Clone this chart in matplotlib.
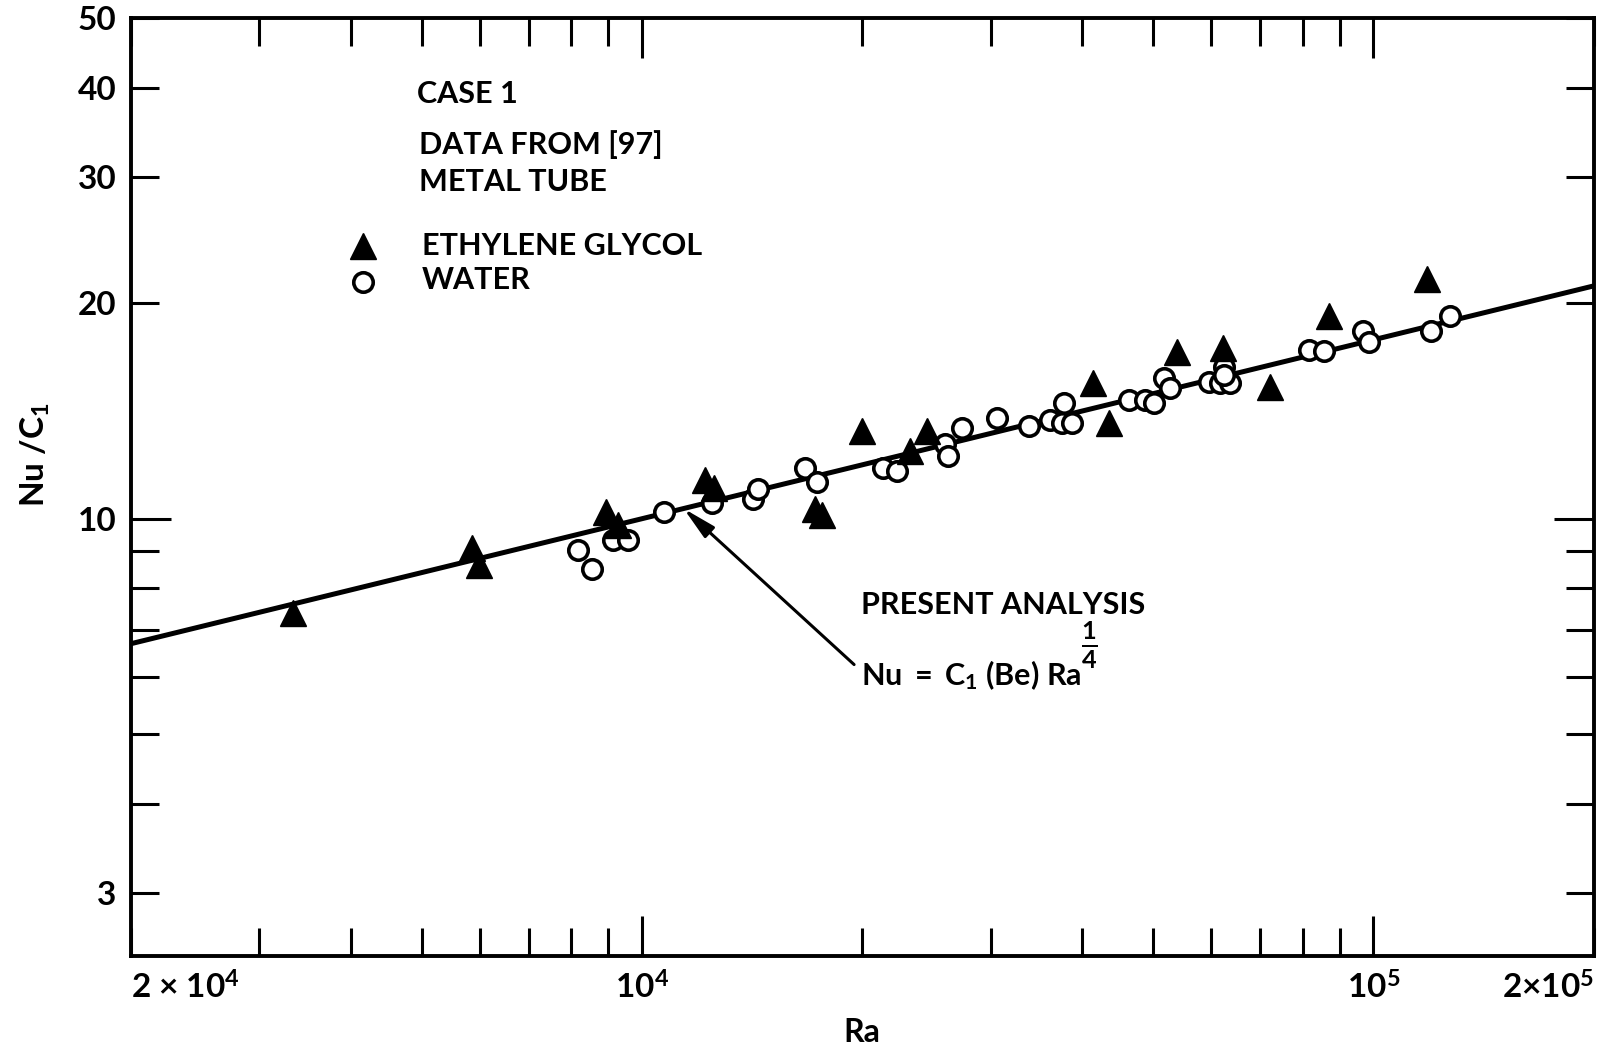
import numpy as np
import matplotlib
matplotlib.use("Agg")
import matplotlib.pyplot as plt

plt.rcParams['font.family'] = ['Lato', 'DejaVu Sans']
plt.rcParams['font.weight'] = 'bold'
plt.rcParams['axes.labelweight'] = 'bold'
plt.rcParams['mathtext.fontset'] = 'custom'
plt.rcParams['mathtext.rm'] = 'Lato:bold'
plt.rcParams['mathtext.it'] = 'Lato:bold'
plt.rcParams['mathtext.bf'] = 'Lato:bold'

# ethylene glycol runs (Ra, Nu/C1)
glycol_ra = [3330, 5850, 5990, 8920, 9280, 12200, 12550, 17240, 17610, 19980,
             23260, 24520, 41370, 43450, 53890, 62250, 72120, 86870, 118450]
glycol_nu = [7.39, 9.11, 8.62, 10.21, 9.79, 11.32, 11.04, 10.32, 10.11, 13.25,
             12.42, 13.25, 15.46, 13.61, 17.09, 17.32, 15.30, 19.21, 21.60]

# water runs (Ra, Nu/C1)
water_ra = [8180, 8540, 9140, 9580, 10730, 12460, 14200, 14420, 16710, 17340,
            21380, 22310, 25970, 26240, 27370, 30560, 33770, 36150, 37700, 37510,
            38710, 46270, 48770, 50060, 51660, 52770, 59530, 61760, 63740, 62400,
            62550, 81560, 85510, 96810, 98540, 119670, 127430]
water_nu = [9.04, 8.50, 9.33, 9.33, 10.23, 10.52, 10.66, 11.00, 11.79, 11.24,
            11.79, 11.66, 12.70, 12.24, 13.39, 13.82, 13.46, 13.75, 14.50, 13.61,
            13.61, 14.66, 14.66, 14.50, 15.70, 15.21, 15.53, 15.46, 15.46, 16.29,
            15.87, 17.19, 17.15, 18.32, 17.65, 18.32, 19.21]

# present analysis: Nu = C1 (Be) Ra^(1/4)
ra_line = np.array([2e3, 2e5])
nu_line = ra_line ** 0.25
arrow_ra = 11400

x_major = [1e4, 1e5]
x_major_labels = ['10$^4$', '10$^5$']
x_minor = [2e3, 3e3, 4e3, 5e3, 6e3, 7e3, 8e3, 9e3,
           2e4, 3e4, 4e4, 5e4, 6e4, 7e4, 8e4, 9e4, 2e5]
x_minor_labels = ['2 × 10$^4$'] + [''] * 15 + ['2×10$^5$']
y_major = [10]
y_minor = [3, 4, 5, 6, 7, 8, 9, 20, 30, 40, 50]
y_minor_labels = ['3', '', '', '', '', '', '', '20', '30', '40', '50']

fig = plt.figure(figsize=(16.03, 10.53), dpi=100)
ax = fig.add_axes([0.0815, 0.0922, 0.9127, 0.8903])
ax.set_xscale('log')
ax.set_yscale('log')
ax.set_xlim(2e3, 2e5)
ax.set_ylim(2.45, 50)

ax.plot(ra_line, nu_line, color='black', lw=3.6, zorder=2)
ax.plot(water_ra, water_nu, 'o', ms=14, mfc='white', mec='black', mew=2.6, zorder=3)
ax.plot(glycol_ra, glycol_nu, '^', ms=19, mfc='black', mec='black', zorder=4)

# axes frame and ticks
for s in ax.spines.values():
    s.set_linewidth(2.8)
ax.set_xticks(x_major, labels=x_major_labels)
ax.set_xticks(x_minor, labels=x_minor_labels, minor=True)
ax.set_yticks(y_major, labels=['10'])
ax.set_yticks(y_minor, labels=y_minor_labels, minor=True)
ax.tick_params(which='both', direction='in', top=True, right=True,
               width=2.2, labelsize=24, pad=10)
ax.tick_params(which='major', length=29)
ax.tick_params(which='minor', length=20)
ax.tick_params(axis='x', which='both', pad=11)
xl = ax.get_xticklabels(minor=True)
xl[0].set_ha('left')
xl[-1].set_ha('right')

ax.set_xlabel('Ra', fontsize=23, labelpad=10)
ax.set_ylabel('Nu /C$_1$', fontsize=24)
ax.yaxis.set_label_coords(-0.054, 0.535)

# legend block
fs = 22
ax.text(0.196, 0.919, 'CASE 1', transform=ax.transAxes, fontsize=fs, va='center')
ax.text(0.197, 0.865, 'DATA FROM [97]', transform=ax.transAxes, fontsize=fs, va='center')
ax.text(0.197, 0.825, 'METAL TUBE', transform=ax.transAxes, fontsize=fs, va='center')
ax.plot([0.1588], [0.757], '^', ms=19, color='black', transform=ax.transAxes)
ax.text(0.199, 0.757, 'ETHYLENE GLYCOL', transform=ax.transAxes, fontsize=fs, va='center')
ax.plot([0.1588], [0.719], 'o', ms=14, mfc='white', mec='black', mew=2.6,
        transform=ax.transAxes)
ax.text(0.199, 0.721, 'WATER', transform=ax.transAxes, fontsize=fs, va='center')

# correlation label with arrow to the line
ax.text(0.499, 0.374, 'PRESENT ANALYSIS', transform=ax.transAxes, fontsize=fs, va='center')
formula = ax.text(0.499, 0.300, r'Nu $=$ C$_1$ (Be) Ra', transform=ax.transAxes,
                  fontsize=fs, va='center')
ax.annotate(r'$\frac{1}{4}$', xy=(1, 0.62), xycoords=formula,
            xytext=(0, 0), textcoords='offset points',
            fontsize=26, ha='left', va='bottom')
ax.annotate('', xy=(arrow_ra, arrow_ra ** 0.25), xycoords='data',
            xytext=(-0.03, 0.8), textcoords=formula,
            arrowprops=dict(arrowstyle='-|>,head_length=1.0,head_width=0.22',
                            color='black', lw=2.2, mutation_scale=20,
                            shrinkA=0, shrinkB=0))

fig.savefig('out.png', dpi=100)
